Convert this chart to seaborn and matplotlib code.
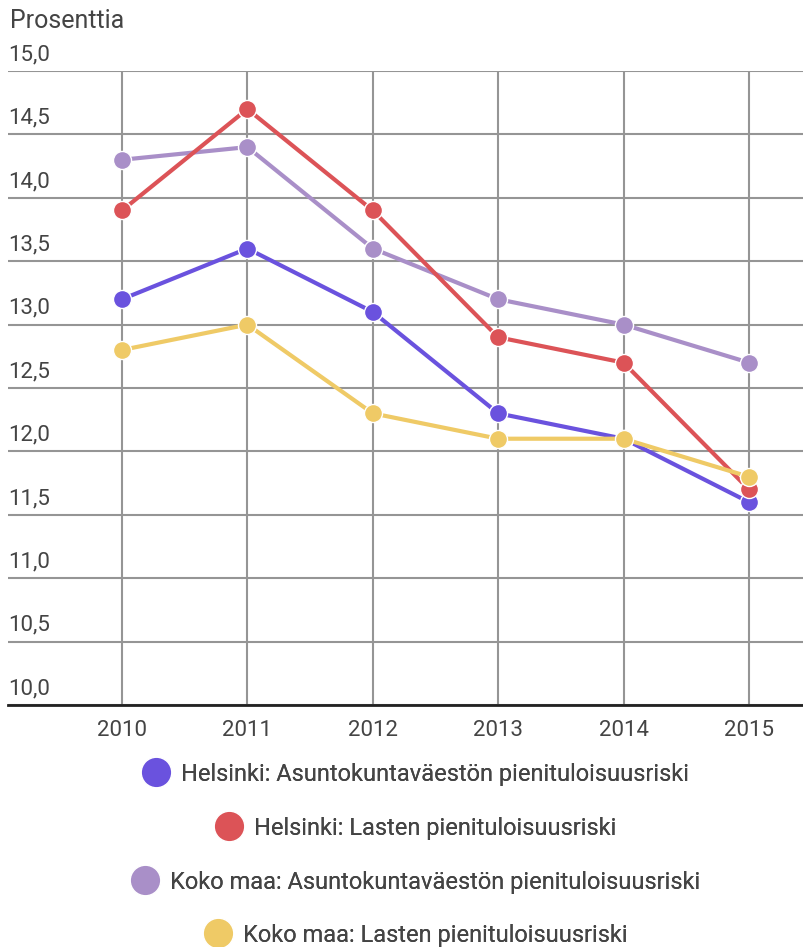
import matplotlib
matplotlib.use("Agg")
import matplotlib.pyplot as plt
from matplotlib.lines import Line2D
from matplotlib.transforms import blended_transform_factory
import numpy as np
import pandas as pd
import seaborn as sns


YEARS = [2010, 2011, 2012, 2013, 2014, 2015]

HKI_ALL = [13.2, 13.6, 13.1, 12.3, 12.1, 11.6]
HKI_KIDS = [13.9, 14.7, 13.9, 12.9, 12.7, 11.7]
FIN_ALL = [14.3, 14.4, 13.6, 13.2, 13.0, 12.7]
FIN_KIDS = [12.8, 13.0, 12.3, 12.1, 12.1, 11.8]

SERIES_NAMES = [
    "Helsinki: Asuntokuntaväestön pienituloisuusriski",
    "Helsinki: Lasten pienituloisuusriski",
    "Koko maa: Asuntokuntaväestön pienituloisuusriski",
    "Koko maa: Lasten pienituloisuusriski",
]
SERIES_COLORS = ["#6a52de", "#dc5357", "#a98fc8", "#efca66"]
Y_TICKS = [10.0, 10.5, 11.0, 11.5, 12.0, 12.5, 13.0, 13.5, 14.0, 14.5, 15.0]

TEXT_COLOR = "#444444"
GRID_COLOR = "#959595"


def build_frame() -> pd.DataFrame:
    rows = []
    for name, values in zip(SERIES_NAMES, [HKI_ALL, HKI_KIDS, FIN_ALL, FIN_KIDS]):
        for year, value in zip(YEARS, values):
            rows.append({"year": year, "value": value, "series": name})
    return pd.DataFrame(rows)


def main() -> None:
    sns.set_theme(style="white")
    plt.rcParams["font.family"] = ["Roboto", "DejaVu Sans"]

    df = build_frame()
    palette = dict(zip(SERIES_NAMES, SERIES_COLORS))

    fig = plt.figure(figsize=(8.04, 9.47), dpi=100)
    ax = fig.add_axes([8 / 804, 1 - 705 / 947, 1 - 8 / 804, (705 - 71) / 947])

    # drawing order: lavender, blue, red, yellow on top
    draw_order = [SERIES_NAMES[2], SERIES_NAMES[0], SERIES_NAMES[1], SERIES_NAMES[3]]
    for z, name in enumerate(draw_order):
        sns.lineplot(
            data=df[df["series"] == name],
            x="year",
            y="value",
            color=palette[name],
            marker="o",
            markersize=13,
            markeredgecolor="white",
            markeredgewidth=1.0,
            linewidth=3.0,
            ax=ax,
            zorder=3 + z,
            legend=False,
        )

    ax.set_xlim(2009.091, 2015.439)
    ax.set_ylim(10, 15)
    ax.set_xticks(YEARS)
    ax.set_xticklabels([str(y) for y in YEARS])
    ax.set_yticks(Y_TICKS)
    ax.set_yticklabels([])
    ax.set_xlabel("")
    ax.set_ylabel("")

    ax.grid(True, axis="both", color=GRID_COLOR, linewidth=1.5, zorder=1)
    ax.set_axisbelow(True)
    for side in ["top", "right", "left"]:
        ax.spines[side].set_visible(False)
    ax.spines["bottom"].set_color("#222222")
    ax.spines["bottom"].set_linewidth(2.0)
    ax.tick_params(axis="x", length=0, pad=11, labelsize=16, labelcolor=TEXT_COLOR)
    ax.tick_params(axis="y", length=0)

    trans = blended_transform_factory(ax.transAxes, ax.transData)
    for t in Y_TICKS:
        ax.text(0.0, t + 0.045, f"{t:.1f}".replace(".", ","), transform=trans,
                ha="left", va="bottom", fontsize=16, color=TEXT_COLOR)

    fig.text(10 / 804, 1 - 21 / 947, "Prosenttia", ha="left", va="center",
             fontsize=18, color=TEXT_COLOR)

    legend_y = [774, 828, 882, 935]
    for name, color, y in zip(SERIES_NAMES, SERIES_COLORS, legend_y):
        handle = Line2D([], [], linestyle="none", marker="o", markersize=22,
                        markerfacecolor=color, markeredgecolor="white", markeredgewidth=1.0)
        leg = fig.legend(handles=[handle], labels=[name], loc="center",
                         bbox_to_anchor=(414 / 804, 1 - y / 947), frameon=False,
                         fontsize=17, handletextpad=0.3, handlelength=1.5,
                         labelcolor=TEXT_COLOR, borderaxespad=0)
        fig.add_artist(leg)

    fig.savefig("out.png", dpi=100)
    plt.close(fig)


if __name__ == "__main__":
    main()
